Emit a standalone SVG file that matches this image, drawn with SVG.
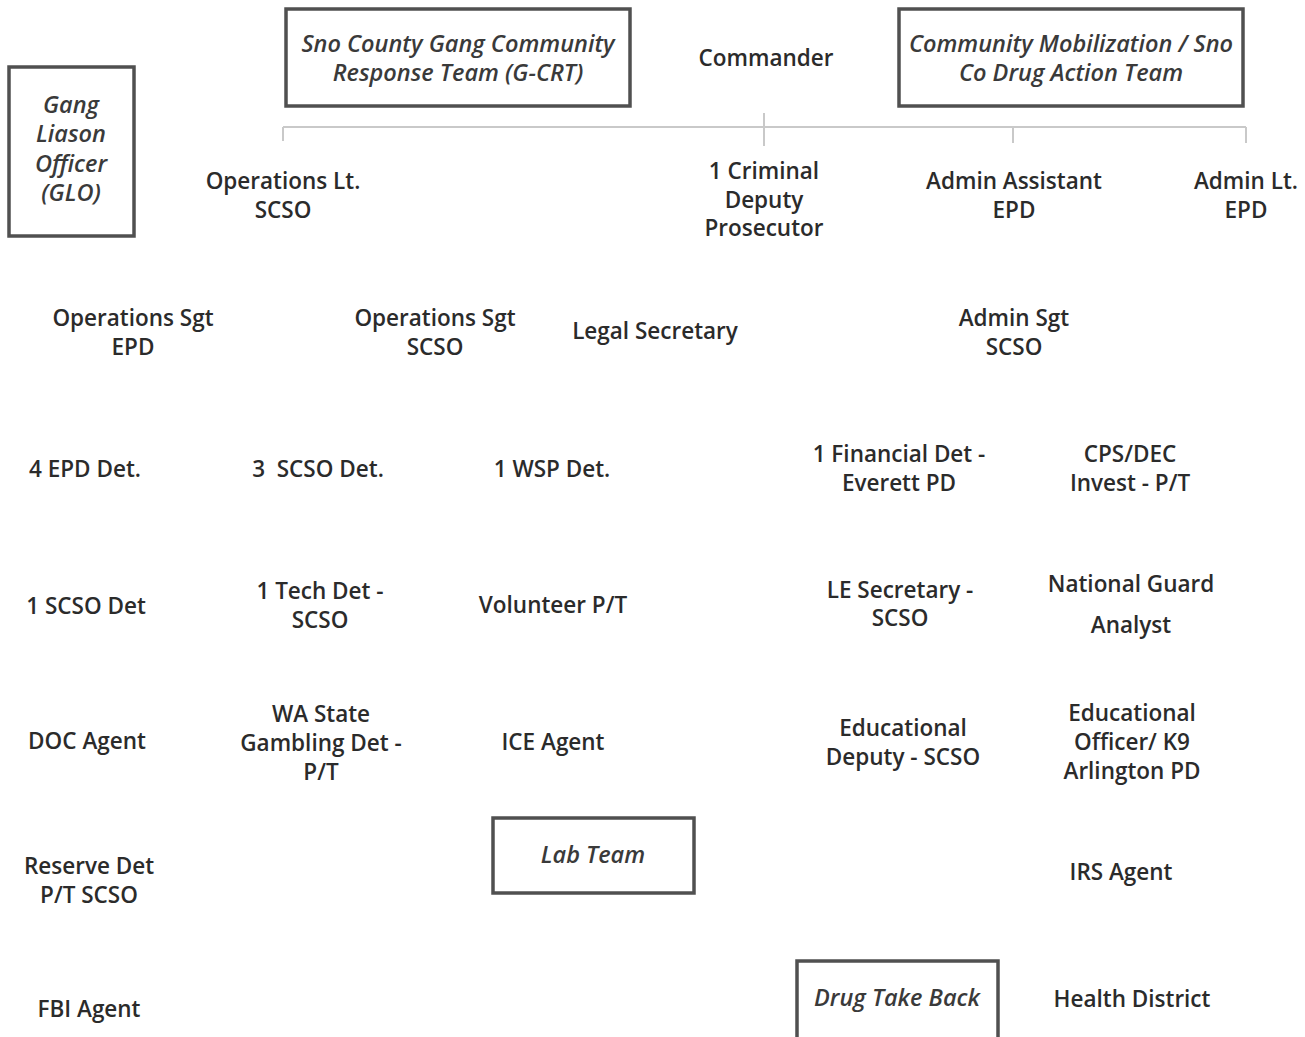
<svg xmlns="http://www.w3.org/2000/svg" width="1305" height="1037" viewBox="0 0 1305 1037">
<style>
  text { font-family: "Open Sans", "Liberation Sans", sans-serif; font-size: 22.5px; font-weight: 600; fill: #2b2b2b; text-anchor: middle; }
  text.it { font-style: italic; font-size: 23.5px; font-weight: 600; fill: #3a3a3a; }
  .box { fill: #ffffff; stroke: #505050; stroke-width: 3.5; }
  .conn { stroke: #c9c9c9; stroke-width: 2; fill: none; }
</style>
<rect width="1305" height="1037" fill="#ffffff"/>
<g id="connectors">
  <path class="conn" d="M283 127 H1246 M283 127 V141 M764 113 V146 M1013 127 V143 M1246 127 V143"/>
</g>
<g id="gcrt">
  <rect class="box" x="286" y="9" width="344" height="97"/>
  <text class="it" x="458" y="52">Sno County Gang Community</text>
  <text class="it" x="458" y="81">Response Team (G-CRT)</text>
</g>
<g id="commander"><text x="766" y="66">Commander</text></g>
<g id="cmdat">
  <rect class="box" x="899" y="9" width="344" height="97"/>
  <text class="it" x="1071" y="52">Community Mobilization / Sno</text>
  <text class="it" x="1071" y="81">Co Drug Action Team</text>
</g>
<g id="glo">
  <rect class="box" x="9" y="67" width="125" height="169"/>
  <text class="it" x="71" y="113">Gang</text>
  <text class="it" x="71" y="142">Liason</text>
  <text class="it" x="71" y="172">Officer</text>
  <text class="it" x="71" y="201">(GLO)</text>
</g>
<g id="ops-lt"><text x="283" y="189">Operations Lt.</text><text x="283" y="218">SCSO</text></g>
<g id="prosecutor"><text x="764" y="179">1 Criminal</text><text x="764" y="208">Deputy</text><text x="764" y="236">Prosecutor</text></g>
<g id="admin-assistant"><text x="1014" y="189">Admin Assistant</text><text x="1014" y="218">EPD</text></g>
<g id="admin-lt"><text x="1246" y="189">Admin Lt.</text><text x="1246" y="218">EPD</text></g>
<g id="ops-sgt-epd"><text x="133" y="326">Operations Sgt</text><text x="133" y="355">EPD</text></g>
<g id="ops-sgt-scso"><text x="435" y="326">Operations Sgt</text><text x="435" y="355">SCSO</text></g>
<g id="legal-secretary"><text x="655" y="339">Legal Secretary</text></g>
<g id="admin-sgt"><text x="1014" y="326">Admin Sgt</text><text x="1014" y="355">SCSO</text></g>
<g id="epd-det"><text x="85" y="477">4 EPD Det.</text></g>
<g id="scso-det3"><text x="318" y="477" xml:space="preserve">3  SCSO Det.</text></g>
<g id="wsp-det"><text x="552" y="477">1 WSP Det.</text></g>
<g id="financial-det"><text x="899" y="462">1 Financial Det -</text><text x="899" y="491">Everett PD</text></g>
<g id="cps-dec"><text x="1130" y="462">CPS/DEC</text><text x="1130" y="491">Invest - P/T</text></g>
<g id="scso-det1"><text x="86" y="614">1 SCSO Det</text></g>
<g id="tech-det"><text x="320" y="599">1 Tech Det -</text><text x="320" y="628">SCSO</text></g>
<g id="volunteer"><text x="553" y="613">Volunteer P/T</text></g>
<g id="le-secretary"><text x="900" y="598">LE Secretary -</text><text x="900" y="626">SCSO</text></g>
<g id="national-guard"><text x="1131" y="592">National Guard</text><text x="1131" y="633">Analyst</text></g>
<g id="doc-agent"><text x="87" y="749">DOC Agent</text></g>
<g id="gambling-det"><text x="321" y="722">WA State</text><text x="321" y="751">Gambling Det -</text><text x="321" y="780">P/T</text></g>
<g id="ice-agent"><text x="553" y="750">ICE Agent</text></g>
<g id="edu-deputy"><text x="903" y="736">Educational</text><text x="903" y="765">Deputy - SCSO</text></g>
<g id="edu-officer"><text x="1132" y="721">Educational</text><text x="1132" y="750">Officer/ K9</text><text x="1132" y="779">Arlington PD</text></g>
<g id="reserve-det"><text x="89" y="874">Reserve Det</text><text x="89" y="903">P/T SCSO</text></g>
<g id="lab-team">
  <rect class="box" x="493" y="818" width="201" height="75"/>
  <text class="it" x="593" y="863">Lab Team</text>
</g>
<g id="irs-agent"><text x="1121" y="880">IRS Agent</text></g>
<g id="fbi-agent"><text x="89" y="1017">FBI Agent</text></g>
<g id="drug-take-back">
  <rect class="box" x="797" y="961" width="201" height="80"/>
  <text class="it" x="897" y="1006">Drug Take Back</text>
</g>
<g id="health-district"><text x="1132" y="1007">Health District</text></g>
</svg>
